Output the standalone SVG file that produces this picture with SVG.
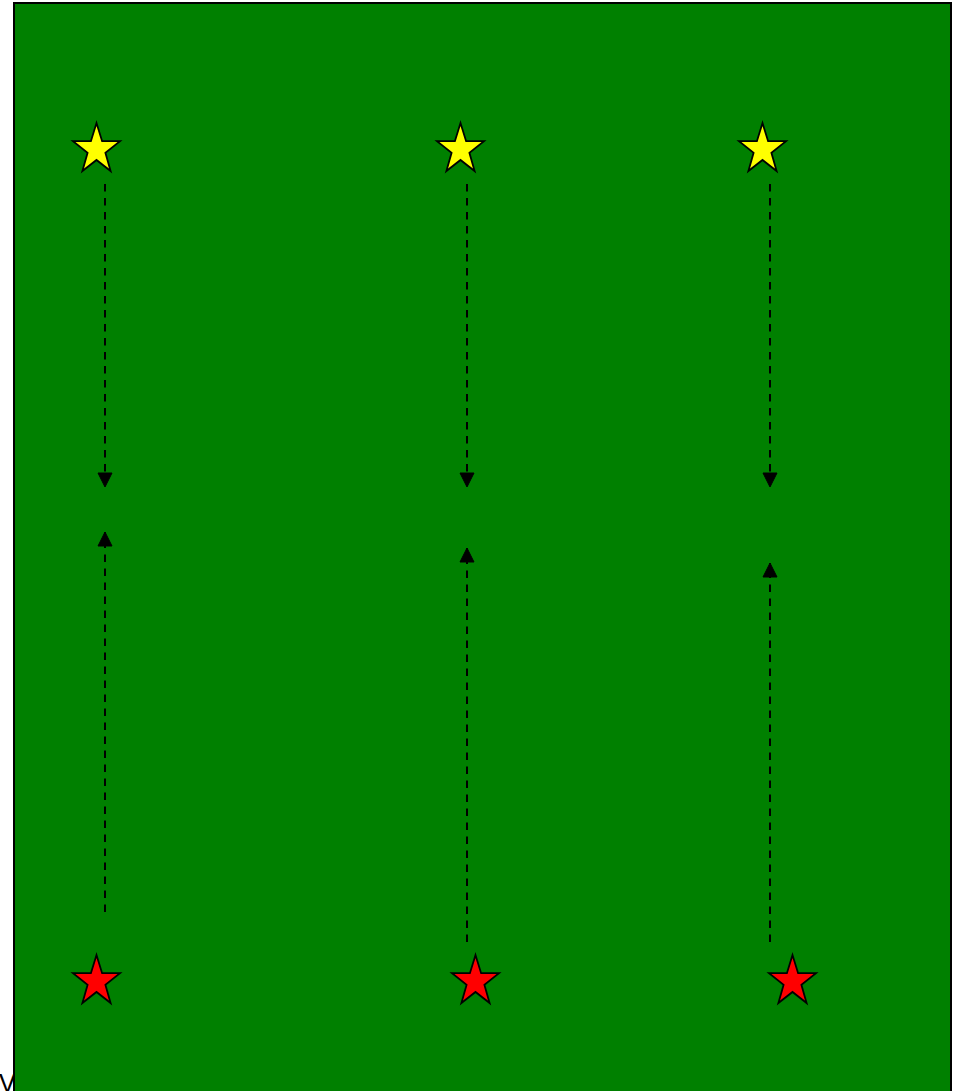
<svg xmlns="http://www.w3.org/2000/svg" xmlns:xlink="http://www.w3.org/1999/xlink" width="956" height="1091" viewBox="0 0 956 1091">
  <style>
    .field { fill: #008000; stroke: #000000; stroke-width: 2; }
    .ystar { fill: #ffff00; stroke: #000000; stroke-width: 1.8; stroke-linejoin: miter; stroke-miterlimit: 4; }
    .rstar { fill: #ff0000; stroke: #000000; stroke-width: 1.8; stroke-linejoin: miter; stroke-miterlimit: 4; }
    .conn { fill: none; stroke: #000000; stroke-width: 2; stroke-dasharray: 7.5 6.5; }
    .lbl { font-family: "Liberation Sans", Arial, sans-serif; font-size: 25px; fill: #000000; }
  </style>
  <defs>
    <polygon id="star" points="0,18.2 17.9,18.2 23.5,0 29.1,18.2 47,18.2 32.4,29.8 37.6,48 23.5,37 9.4,48 14.6,29.8"/>
    <marker id="arrow" viewBox="0 0 16 16" refX="15" refY="8" markerWidth="16" markerHeight="16" markerUnits="userSpaceOnUse" orient="auto">
      <path d="M1,1 L15,8 L1,15 Z" fill="#000000" stroke="#000000" stroke-width="1"/>
    </marker>
  </defs>

  <text class="lbl" x="-1" y="1092">V</text>

  <g id="field">
    <rect class="field" x="14" y="3" width="937" height="1100"/>
  </g>

  <g id="connectors">
    <path class="conn" d="M105,184 L105,487" marker-end="url(#arrow)"/>
    <path class="conn" d="M105,912 L105,532" marker-end="url(#arrow)"/>
    <path class="conn" d="M467,184 L467,487" marker-end="url(#arrow)"/>
    <path class="conn" d="M467,942 L467,548" marker-end="url(#arrow)"/>
    <path class="conn" d="M770,184 L770,487" marker-end="url(#arrow)"/>
    <path class="conn" d="M770,942 L770,563" marker-end="url(#arrow)"/>
  </g>

  <g id="yellow-star-1"><use xlink:href="#star" href="#star" class="ystar" x="73" y="123"/></g>
  <g id="yellow-star-2"><use xlink:href="#star" href="#star" class="ystar" x="437" y="123"/></g>
  <g id="yellow-star-3"><use xlink:href="#star" href="#star" class="ystar" x="739" y="123"/></g>
  <g id="red-star-1"><use xlink:href="#star" href="#star" class="rstar" x="73" y="955"/></g>
  <g id="red-star-2"><use xlink:href="#star" href="#star" class="rstar" x="452" y="955"/></g>
  <g id="red-star-3"><use xlink:href="#star" href="#star" class="rstar" x="769" y="955"/></g>
</svg>
